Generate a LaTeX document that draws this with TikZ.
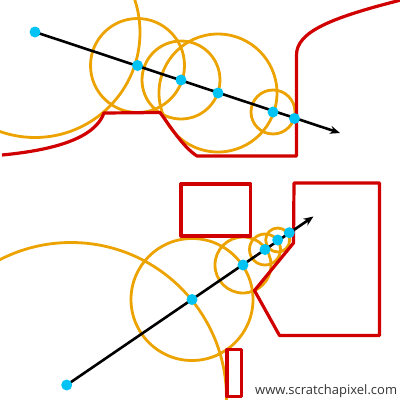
\documentclass[tikz,border=0pt]{standalone}
\usepackage{fontspec}
\setmainfont{Open Sans}
\usetikzlibrary{arrows.meta}
\definecolor{sred}{RGB}{208,0,0}
\definecolor{sorange}{RGB}{236,163,0}
\definecolor{scyan}{RGB}{0,195,245}
\begin{document}
\begin{tikzpicture}[x=1pt,y=-1pt,
  hit/.style={circle,fill=scyan,inner sep=0pt,minimum size=11pt},
  bound/.style={draw=sorange,line width=2.8pt},
  surf/.style={draw=sred,line width=3.2pt,line join=round},
  ray/.style={draw=black,line width=2.6pt,-{Stealth[length=10pt,width=8pt]}}]
\useasboundingbox (0,0) rectangle (400,400);
\clip (0,0) rectangle (400,400);
% ---------- top scene ----------
\coordinate (a0) at (35,32);
\coordinate (a1) at (137.5,65.5);
\coordinate (a2) at (181,80);
\coordinate (a3) at (218,93);
\coordinate (a4) at (273,112);
\coordinate (a5) at (294.5,118.5);
\coordinate (aend) at (340,133);
\draw[bound] (35,32.5) circle[radius=105];
\draw[bound] (a1) circle[radius=47];
\draw[bound] (a2) circle[radius=39];
\draw[bound] (a3) circle[radius=59];
\draw[bound] (a4) circle[radius=22];
\draw[surf] (2,155) .. controls (55,150) and (95,138) .. (104,113)
  -- (160,112.5) .. controls (170,126) and (183,147) .. (197,156)
  -- (296.5,156) -- (296.5,55) .. controls (296.5,32) and (330,18) .. (401,0);
\draw[ray] (a0) -- (aend);
\foreach \p in {a0,a1,a2,a3,a4,a5} \node[hit] (n\p) at (\p) {};
% ---------- bottom scene ----------
\coordinate (b0) at (66.7,385);
\coordinate (b1) at (192,299.5);
\coordinate (b2) at (243,265);
\coordinate (b3) at (265,249.5);
\coordinate (b4) at (277.7,240);
\coordinate (b5) at (289.3,232.7);
\coordinate (bend) at (313.5,216.5);
\draw[bound] (71,398) circle[radius=155.5];
\draw[bound] (b1) circle[radius=61];
\draw[bound] (b2) circle[radius=28];
\draw[bound] (b3) circle[radius=15.5];
\draw[bound] (b4) circle[radius=12];
\draw[surf] (181,184) rectangle (250.5,236);
\draw[surf] (294,183) -- (379.5,183) -- (379.5,335.5) -- (279.5,335.5)
  -- (254.5,290.5) -- (293.5,243) -- cycle;
\draw[surf] (227,349.5) rectangle (241.5,396.5);
\draw[ray] (b0) -- (bend);
\foreach \p in {b0,b1,b2,b3,b4,b5} \node[hit] (n\p) at (\p) {};
\node[anchor=base west,inner sep=0pt,text=black!80,font=\fontsize{13}{15}\selectfont] (wm) at (255,394.5) {www.scratchapixel.com};
\end{tikzpicture}
\end{document}
